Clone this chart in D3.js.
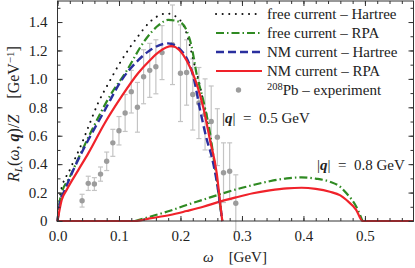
<!DOCTYPE html>
<html>
<head>
<meta charset="utf-8">
<script src="https://cdn.jsdelivr.net/npm/d3@7"></script>
<style>
body { margin: 0; background: #fff; }
text { font-family: "Liberation Serif", "DejaVu Serif", serif; font-size: 15px; fill: #222; }
</style>
</head>
<body>
<div id="chart"></div>
<script>
// |q| = 0.5 GeV curves
var freeHartreeW = [0, 0.005, 0.02, 0.037, 0.05, 0.066, 0.083, 0.104, 0.131, 0.15, 0.167, 0.178, 0.199, 0.21, 0.221, 0.232, 0.245, 0.258, 0.268];
var freeHartreeR = [0, 0.2, 0.36, 0.52, 0.66, 0.83, 0.97, 1.13, 1.30, 1.40, 1.45, 1.46, 1.415, 1.32, 1.13, 0.945, 0.65, 0.33, 0];

var freeRpaW = [0, 0.005, 0.02, 0.056, 0.088, 0.11, 0.142, 0.165, 0.18, 0.199, 0.21, 0.218, 0.226, 0.237, 0.248, 0.256, 0.268];
var freeRpaR = [0, 0.17, 0.31, 0.64, 0.90, 1.04, 1.27, 1.38, 1.415, 1.40, 1.34, 1.23, 1.04, 0.85, 0.62, 0.38, 0];

var nmHartreeW = [0, 0.005, 0.0095, 0.028, 0.05, 0.077, 0.104, 0.131, 0.15, 0.18, 0.205, 0.221, 0.232, 0.243, 0.251, 0.26, 0.268];
var nmHartreeR = [0, 0.15, 0.195, 0.38, 0.57, 0.78, 0.99, 1.13, 1.20, 1.25, 1.18, 1.015, 0.78, 0.57, 0.45, 0.25, 0];

var nmRpaW = [0, 0.0068, 0.015, 0.034, 0.05, 0.077, 0.104, 0.131, 0.15, 0.165, 0.186, 0.21, 0.226, 0.237, 0.248, 0.259, 0.264, 0.268];
var nmRpaR = [0, 0.148, 0.22, 0.36, 0.476, 0.69, 0.875, 1.04, 1.13, 1.19, 1.23, 1.13, 0.97, 0.80, 0.57, 0.335, 0.148, 0];

// |q| = 0.8 GeV curves
var freeRpa8W = [0.126, 0.15, 0.183, 0.21, 0.237, 0.264, 0.29, 0.318, 0.345, 0.373, 0.397, 0.42, 0.443, 0.46, 0.47, 0.486, 0.496];
var freeRpa8R = [0, 0.03, 0.072, 0.113, 0.15, 0.188, 0.222, 0.253, 0.28, 0.300, 0.307, 0.298, 0.277, 0.24, 0.195, 0.10, 0];

var nmRpa8W = [0, 0.126, 0.15, 0.183, 0.21, 0.237, 0.264, 0.29, 0.318, 0.345, 0.373, 0.397, 0.42, 0.443, 0.46, 0.47, 0.486, 0.496, 0.579];
var nmRpa8R = [0, 0, 0.018, 0.042, 0.07, 0.10, 0.136, 0.166, 0.195, 0.215, 0.23, 0.234, 0.226, 0.206, 0.18, 0.148, 0.077, 0, 0];

// 208Pb experiment
var expW = [0.04, 0.05, 0.06, 0.07, 0.08, 0.09, 0.10, 0.11, 0.12, 0.13, 0.14, 0.15, 0.16, 0.17, 0.187, 0.20, 0.21, 0.22, 0.23, 0.24, 0.25, 0.26, 0.27, 0.28, 0.29];
var expR = [0.143, 0.265, 0.26, 0.33, 0.42, 0.55, 0.635, 0.76, 0.91, 0.80, 1.015, 1.06, 1.085, 1.185, 1.24, 1.04, 1.045, 0.89, 0.83, 0.75, 0.70, 0.59, 0.34, 0.35, 0.125];
var expErr = [0.045, 0.05, 0.045, 0.05, 0.065, 0.095, 0.10, 0.13, 0.15, 0.175, 0.19, 0.19, 0.19, 0.19, 0.28, 0.34, 0.23, 0.25, 0.25, 0.25, 0.25, 0.2, 0.21, 0.2, 0.2];

var xMajor = [0, 0.1, 0.2, 0.3, 0.4, 0.5];
var xMinor = d3.range(0, 0.58, 0.02);
var yMajor = [0, 0.2, 0.4, 0.6, 0.8, 1.0, 1.2, 1.4];
var yMinor = d3.range(0, 1.55, 0.1);

var legendLabels = ["free current \u2013 Hartree", "free current \u2013 RPA", "NM current \u2013 Hartree", "NM current \u2013 RPA"];

var width = 415, height = 268;
var plotLeft = 57.5, plotRight = 413.5, plotTop = 1, plotBottom = 221;

var svg = d3.select("#chart").append("svg")
    .attr("width", width)
    .attr("height", height);

var x = d3.scaleLinear().domain([0, 0.579]).range([plotLeft, plotRight]);
var y = d3.scaleLinear().domain([0, 1.548]).range([plotBottom, plotTop]);

function pairs(w, r) {
    return w.map(function(d, i) { return [d, r[i]]; });
}

var line = d3.line()
    .x(function(d) { return x(d[0]); })
    .y(function(d) { return y(d[1]); })
    .curve(d3.curveMonotoneX);

// styles for each curve
var styles = {
    black: { color: "#111", width: 2, dash: "0.1,6.5", cap: "round" },
    green: { color: "#2f8a22", width: 2.2, dash: "8,3,1.5,3", cap: "butt" },
    blue: { color: "#2a2f9e", width: 2.4, dash: "8,4", cap: "butt" },
    red: { color: "#f0222a", width: 2.2, dash: null, cap: "butt" }
};

function drawCurve(data, st) {
    svg.append("path")
        .attr("d", line(data))
        .attr("fill", "none")
        .attr("stroke", st.color)
        .attr("stroke-width", st.width)
        .attr("stroke-dasharray", st.dash)
        .attr("stroke-linecap", st.cap);
}

// experiment error bars and points
var expData = expW.map(function(d, i) { return { w: d, r: expR[i], e: expErr[i] }; });

var bars = svg.append("g").attr("stroke", "#c4c4c4").attr("stroke-width", 1.2);
expData.forEach(function(d) {
    bars.append("line")
        .attr("x1", x(d.w)).attr("x2", x(d.w))
        .attr("y1", y(d.r - d.e)).attr("y2", y(d.r + d.e));
    bars.append("line")
        .attr("x1", x(d.w) - 2.5).attr("x2", x(d.w) + 2.5)
        .attr("y1", y(d.r - d.e)).attr("y2", y(d.r - d.e));
    bars.append("line")
        .attr("x1", x(d.w) - 2.5).attr("x2", x(d.w) + 2.5)
        .attr("y1", y(d.r + d.e)).attr("y2", y(d.r + d.e));
});
svg.append("g").selectAll("circle")
    .data(expData)
    .enter().append("circle")
    .attr("cx", function(d) { return x(d.w); })
    .attr("cy", function(d) { return y(d.r); })
    .attr("r", 2.7)
    .attr("fill", "#9c9c9c");

// curves
drawCurve(pairs(freeRpa8W, freeRpa8R), styles.green);
drawCurve(pairs(nmRpa8W, nmRpa8R), styles.red);
drawCurve(pairs(freeHartreeW, freeHartreeR), styles.black);
drawCurve(pairs(freeRpaW, freeRpaR), styles.green);
drawCurve(pairs(nmHartreeW, nmHartreeR), styles.blue);
drawCurve(pairs(nmRpaW, nmRpaR), styles.red);

// frame and ticks (all inward)
svg.append("rect")
    .attr("x", plotLeft).attr("y", plotTop)
    .attr("width", plotRight - plotLeft).attr("height", plotBottom - plotTop)
    .attr("fill", "none").attr("stroke", "#333").attr("stroke-width", 1);

function addAxis(axis, tx, ty) {
    var g = svg.append("g")
        .attr("transform", "translate(" + tx + "," + ty + ")")
        .call(axis);
    g.select(".domain").remove();
    g.selectAll("line").attr("stroke", "#333");
    g.selectAll("text").attr("font-family", null).attr("font-size", null).attr("fill", "#222");
    return g;
}

var fmtX = function(d) { return d3.format(".1f")(d); };
var fmtY = function(d) { return d === 0 ? "0" : d3.format(".1f")(d); };

addAxis(d3.axisBottom(x).tickValues(xMinor).tickSize(-3).tickFormat(""), 0, plotBottom);
addAxis(d3.axisBottom(x).tickValues(xMajor).tickSize(-5).tickPadding(9).tickFormat(fmtX), 0, plotBottom);
addAxis(d3.axisTop(x).tickValues(xMinor).tickSize(-3).tickFormat(""), 0, plotTop);
addAxis(d3.axisTop(x).tickValues(xMajor).tickSize(-5).tickFormat(""), 0, plotTop);
addAxis(d3.axisLeft(y).tickValues(yMinor).tickSize(-3).tickFormat(""), plotLeft, 0);
addAxis(d3.axisLeft(y).tickValues(yMajor).tickSize(-5).tickPadding(10).tickFormat(fmtY), plotLeft, 0);
addAxis(d3.axisRight(y).tickValues(yMinor).tickSize(-3).tickFormat(""), plotRight, 0);
addAxis(d3.axisRight(y).tickValues(yMajor).tickSize(-5).tickFormat(""), plotRight, 0);

// legend
var legendStyles = [styles.black, styles.green, styles.blue, styles.red];
legendStyles.forEach(function(st, i) {
    var ly = 14 + i * 19;
    svg.append("line")
        .attr("x1", 216).attr("x2", 262)
        .attr("y1", ly).attr("y2", ly)
        .attr("stroke", st.color)
        .attr("stroke-width", st.width)
        .attr("stroke-dasharray", st.dash)
        .attr("stroke-linecap", st.cap);
    svg.append("text")
        .attr("x", 267).attr("y", ly + 5)
        .text(legendLabels[i]);
});
svg.append("circle")
    .attr("cx", 238.5).attr("cy", 90)
    .attr("r", 2.7).attr("fill", "#9c9c9c");
var expLabel = svg.append("text").attr("x", 267).attr("y", 95);
expLabel.append("tspan").attr("dy", -5).attr("font-size", "10.5px").text("208");
expLabel.append("tspan").attr("dy", 5).text("Pb \u2013 experiment");

// |q| annotations
function qLabel(tx, ty, val) {
    var t = svg.append("text").attr("x", tx).attr("y", ty);
    t.append("tspan").text("|");
    t.append("tspan").attr("font-weight", "bold").attr("font-style", "italic").text("q");
    t.append("tspan").text("|\u2002=\u2002" + val + " GeV");
}
qLabel(222, 123, "0.5");
qLabel(317, 170, "0.8");

// axis titles
var xt = svg.append("text").attr("x", 235).attr("y", 262).attr("text-anchor", "middle");
xt.append("tspan").attr("font-style", "italic").text("\u03c9");
xt.append("tspan").text("\u2003[GeV]");

var yt = svg.append("text")
    .attr("transform", "translate(19,114) rotate(-90)")
    .attr("text-anchor", "middle")
    .style("font-size", "16px");
yt.append("tspan").attr("font-style", "italic").text("R");
yt.append("tspan").attr("font-style", "italic").attr("font-size", "11px").attr("dy", 3).text("L");
yt.append("tspan").attr("dy", -3).text("(");
yt.append("tspan").attr("font-style", "italic").text("\u03c9");
yt.append("tspan").text(", ");
yt.append("tspan").attr("font-weight", "bold").attr("font-style", "italic").text("q");
yt.append("tspan").text(")/");
yt.append("tspan").attr("font-style", "italic").text("Z");
yt.append("tspan").text("\u2003[GeV");
yt.append("tspan").attr("font-size", "11px").attr("dy", -5).text("\u22121");
yt.append("tspan").attr("dy", 5).text("]");
</script>
</body>
</html>
